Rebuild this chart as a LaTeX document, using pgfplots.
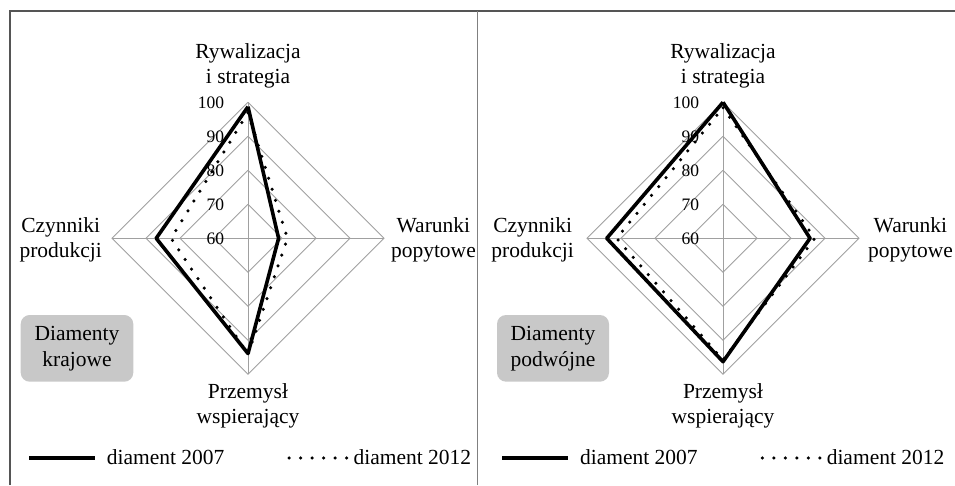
\documentclass[border=0pt]{standalone}
\usepackage{fontspec}
\setmainfont{Liberation Serif}
\usepackage{pgfplots}
\usepackage{pgfplotstable}
\pgfplotsset{compat=1.18}

\definecolor{gridgray}{HTML}{A0A0A0}
\definecolor{boxgray}{HTML}{C8C8C8}
\definecolor{framegray}{HTML}{555555}

% values per axis: top, right, bottom, left, top again (to close)
\pgfplotstableread{
ang d07 d12
90 98.7 97.0
0 69.0 71.6
270 93.9 94.1
180 87.0 82.6
90 98.7 97.0
}\krajowe

\pgfplotstableread{
ang d07 d12
90 100.0 98.4
0 85.6 87.0
270 96.3 95.8
180 94.2 91.3
90 100.0 98.4
}\podwojne

\pgfplotsset{
  diamond/.style={
    hide axis, clip=false, anchor=center,
    x=3.4pt, y=3.4pt,
    xmin=-40, xmax=40, ymin=-40, ymax=40,
    legend columns=2,
    legend style={draw=none, fill=none, inner sep=0pt, anchor=west,
      font=\fontsize{21.5}{25}\selectfont,
      nodes={inner sep=0pt},
      /tikz/column 1/.style={column sep=10pt},
      /tikz/column 2/.style={column sep=63pt},
      /tikz/column 3/.style={column sep=5pt}},
  },
  ring/.style={gridgray, line width=0.9pt, forget plot},
  d07/.style={black, line width=3.6pt, line join=round,
    legend image code/.code={\draw[##1] (0pt,0pt) -- (66pt,0pt);}},
  d12/.style={black, line width=3.5pt, line cap=round, dash pattern=on 0pt off 11.5pt,
    legend image code/.code={\draw[##1] (0pt,0pt) -- (57.6pt,0pt);}},
}
\tikzset{
  lab/.style={align=center, inner sep=0pt, font=\fontsize{21.5}{25}\selectfont},
  num/.style={anchor=east, inner sep=0pt, font=\fontsize{17.5}{20}\selectfont},
}

\newcommand{\grid}{%
  \addplot[ring] coordinates {(0,10) (10,0) (0,-10) (-10,0) (0,10)};
  \addplot[ring] coordinates {(0,20) (20,0) (0,-20) (-20,0) (0,20)};
  \addplot[ring] coordinates {(0,30) (30,0) (0,-30) (-30,0) (0,30)};
  \addplot[ring] coordinates {(0,40) (40,0) (0,-40) (-40,0) (0,40)};
  \addplot[ring] coordinates {(0,40) (0,-40)};
  \addplot[ring] coordinates {(-40,0) (40,0)};
}
\newcommand{\labels}[2]{%
  \node[lab, anchor=south] at (axis cs:0,44.2) {Rywalizacja\\i strategia};
  \node[lab, anchor=east] at (axis cs:#1,-0.4) {Czynniki\\produkcji};
  \node[lab, anchor=west] at (axis cs:#2,-0.4) {Warunki\\popytowe};
  \node[lab, anchor=north] at (axis cs:0,-42.6) {Przemysł\\wspierający};
  \node[num] at (axis cs:-7,0) {60};
  \node[num] at (axis cs:-7,10) {70};
  \node[num] at (axis cs:-7,20) {80};
  \node[num] at (axis cs:-7,30) {90};
  \node[num] at (axis cs:-7,40) {100};
}

\begin{document}
\begin{tikzpicture}
  \useasboundingbox (0pt,0pt) rectangle (955pt,485pt);

  % frame and divider
  \draw[framegray, line width=1.3pt] (10pt,0pt) -- (10pt,474pt) -- (955pt,474pt);
  \draw[gray, line width=1pt] (477pt,0pt) -- (477pt,474pt);

  % label boxes
  \fill[boxgray, rounded corners=9pt] (20.7pt,103.3pt) rectangle (133.3pt,170pt);
  \node[lab, font=\fontsize{21.5}{26}\selectfont] at (77pt,136.6pt) {Diamenty\\krajowe};
  \fill[boxgray, rounded corners=9pt] (497pt,103.3pt) rectangle (609pt,170pt);
  \node[lab, font=\fontsize{21.5}{26}\selectfont] at (553pt,136.6pt) {Diamenty\\podwójne};

  \begin{axis}[diamond, at={(248pt,246.7pt)},
      legend style={at={(-0.3125,-0.3075)}}]
    \grid
    \addplot[d07] table[x expr={(\thisrow{d07}-60)*cos(\thisrow{ang})},
                        y expr={(\thisrow{d07}-60)*sin(\thisrow{ang})}] {\krajowe};
    \addlegendentry{diament 2007}
    \addplot[d12] table[x expr={(\thisrow{d12}-60)*cos(\thisrow{ang})},
                        y expr={(\thisrow{d12}-60)*sin(\thisrow{ang})}] {\krajowe};
    \addlegendentry{diament 2012}
    \labels{-42.9}{42.0}
  \end{axis}

  \begin{axis}[diamond, at={(723pt,246.7pt)},
      legend style={at={(-0.319,-0.3075)}}]
    \grid
    \addplot[d07] table[x expr={(\thisrow{d07}-60)*cos(\thisrow{ang})},
                        y expr={(\thisrow{d07}-60)*sin(\thisrow{ang})}] {\podwojne};
    \addlegendentry{diament 2007}
    \addplot[d12] table[x expr={(\thisrow{d12}-60)*cos(\thisrow{ang})},
                        y expr={(\thisrow{d12}-60)*sin(\thisrow{ang})}] {\podwojne};
    \addlegendentry{diament 2012}
    \labels{-43.8}{42.6}
  \end{axis}
\end{tikzpicture}
\end{document}
